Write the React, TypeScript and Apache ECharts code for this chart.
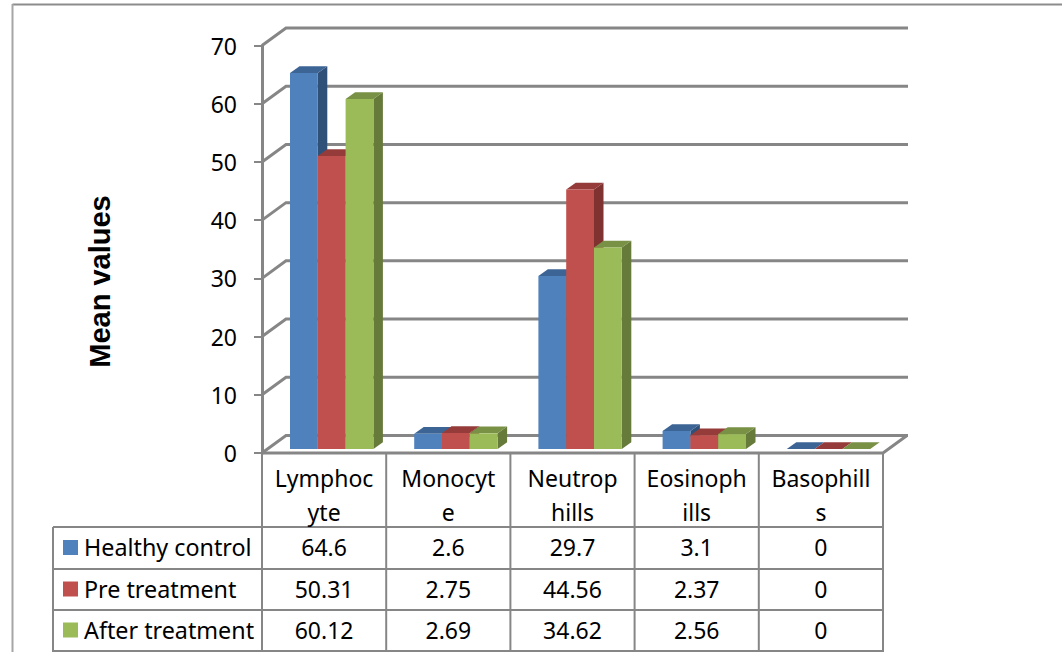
import React, { useEffect, useRef } from "react";
import * as echarts from "echarts";

const categories = ["Lymphoc\nyte", "Monocyt\ne", "Neutrop\nhills", "Eosinoph\nills", "Basophill\ns"];
const seriesNames = ["Healthy control", "Pre treatment", "After treatment"];
const healthyControl = [64.6, 2.6, 29.7, 3.1, 0];
const preTreatment = [50.31, 2.75, 44.56, 2.37, 0];
const afterTreatment = [60.12, 2.69, 34.62, 2.56, 0];
const tableText = [
  ["64.6", "2.6", "29.7", "3.1", "0"],
  ["50.31", "2.75", "44.56", "2.37", "0"],
  ["60.12", "2.69", "34.62", "2.56", "0"],
];
const yTicks = [0, 10, 20, 30, 40, 50, 60, 70];
const seriesValues = [healthyControl, preTreatment, afterTreatment];

const FRONT = ["#4f81bd", "#c0504d", "#9bbb59"];
const SIDE = ["#2f5179", "#7f3230", "#667a3a"];
const TOP = ["#3c6494", "#953c3a", "#789144"];
const GRID = "#868686";
const FONT = "Noto Sans";
const FS = 23;

const LEFT = 262, TOP_Y = 45.5, PLOT_W = 621, PLOT_H = 407.5;
const DX = 24, DY = -17.5;
const BAR_W = 27.8, BAR_DX = 9.5, BAR_DY = -6.8, BAR_SHIFT_X = 7.6, BAR_SHIFT_Y = -4;
const ROWS = [453, 527, 569, 610, 651];
const TABLE_LEFT = 53;
const COL = PLOT_W / 5;

function App() {
  const ref = useRef<HTMLDivElement>(null);
  useEffect(() => {
    const chart = echarts.init(ref.current!, undefined, { renderer: "svg" });
    const graphics: any[] = [];
    const line = (x1: number, y1: number, x2: number, y2: number, w = 2, c = GRID) =>
      graphics.push({ type: "line", z: 1, silent: true, shape: { x1, y1, x2, y2 }, style: { stroke: c, lineWidth: w } });
    // outer frame
    line(12.5, 4.5, 1062, 4.5, 2, "#8c8c8c");
    line(12.5, 4, 12.5, 652, 2, "#a6a6a6");
    // table
    for (let i = 0; i <= 5; i++) line(LEFT + i * COL, 453, LEFT + i * COL, 652, 2);
    line(TABLE_LEFT, 527, TABLE_LEFT, 652, 2);
    ROWS.slice(1).forEach((y) => line(TABLE_LEFT, y, LEFT + 5 * COL, y, 2));
    // category text, row headers, cells
    categories.forEach((c, i) => {
      c.split("\n").forEach((t, k) =>
        graphics.push({
          type: "text", z: 5, x: LEFT + (i + 0.5) * COL, y: 478 + k * 34,
          style: { text: t, fontFamily: FONT, fontSize: FS, fill: "#000", align: "center", verticalAlign: "middle" },
        })
      );
    });
    seriesNames.forEach((n, r) => {
      const cy = (ROWS[r + 1] + ROWS[r + 2]) / 2;
      graphics.push({ type: "rect", z: 5, shape: { x: 63, y: cy - 8, width: 15, height: 15 }, style: { fill: FRONT[r] } });
      graphics.push({
        type: "text", z: 5, x: 84, y: cy - 1,
        style: { text: n, fontFamily: FONT, fontSize: FS + 0.3, fill: "#000", align: "left", verticalAlign: "middle" },
      });
      tableText[r].forEach((t, i) =>
        graphics.push({
          type: "text", z: 5, x: LEFT + (i + 0.5) * COL, y: cy - 1,
          style: { text: t, fontFamily: FONT, fontSize: FS, fill: "#000", align: "center", verticalAlign: "middle" },
        })
      );
    });
    graphics.push({
      type: "text", z: 5, x: 100, y: 281.5, rotation: Math.PI / 2,
      style: { text: "Mean values", fontFamily: "Liberation Sans", fontWeight: "bold", fontSize: 29, fill: "#000", align: "center", verticalAlign: "middle" },
    });

    const wall = {
      type: "custom", coordinateSystem: "cartesian2d", silent: true, z: 2,
      data: yTicks.map((v) => [0, v]),
      renderItem: (_p: any, api: any) => {
        const pt = api.coord([0, api.value(1)]);
        const y = pt[1];
        return {
          type: "polyline",
          shape: { points: [[LEFT, y], [LEFT + DX, y + DY], [LEFT + PLOT_W + DX + 1, y + DY]] },
          style: { stroke: GRID, lineWidth: 3, fill: "none" },
        };
      },
    };
    const floorEdge = {
      type: "custom", coordinateSystem: "cartesian2d", silent: true, z: 2,
      data: [[4, 0]],
      renderItem: (_p: any, api: any) => {
        const y = api.coord([0, 0])[1];
        return {
          type: "polyline",
          shape: { points: [[LEFT, y], [LEFT + PLOT_W, y], [LEFT + PLOT_W + DX, y + DY]] },
          style: { stroke: GRID, lineWidth: 3, fill: "none" },
        };
      },
    };
    const bars = seriesValues.map((vals, s) => ({
      type: "custom", name: seriesNames[s], coordinateSystem: "cartesian2d", silent: true, z: 3 + s,
      data: vals.map((v, i) => [i, v]),
      renderItem: (_p: any, api: any) => {
        const top = api.coord([api.value(0), api.value(1)]);
        const base = api.coord([api.value(0), 0]);
        const x0 = top[0] + BAR_SHIFT_X + (s - 1.5) * BAR_W;
        const x1 = x0 + BAR_W;
        const yt = top[1] + BAR_SHIFT_Y;
        const yb = base[1] + BAR_SHIFT_Y;
        const children: any[] = [
          { type: "polygon", shape: { points: [[x1, yt], [x1 + BAR_DX, yt + BAR_DY], [x1 + BAR_DX, yb + BAR_DY], [x1, yb]] }, style: { fill: SIDE[s] } },
          { type: "polygon", shape: { points: [[x0, yt], [x0 + BAR_DX, yt + BAR_DY], [x1 + BAR_DX, yt + BAR_DY], [x1, yt]] }, style: { fill: TOP[s] } },
        ];
        if (yb - yt > 0.5) children.push({ type: "rect", shape: { x: x0, y: yt, width: BAR_W, height: yb - yt }, style: { fill: FRONT[s] } });
        return { type: "group", children };
      },
    }));

    chart.setOption({
      animation: false,
      backgroundColor: "#fff",
      grid: { left: LEFT, top: TOP_Y, width: PLOT_W, height: PLOT_H, containLabel: false },
      xAxis: { type: "category", data: categories, axisLine: { show: false }, axisTick: { show: false }, axisLabel: { show: false } },
      yAxis: {
        type: "value", min: 0, max: 70, interval: 10,
        axisLine: { show: true, lineStyle: { color: GRID, width: 3 } },
        axisTick: { show: true, length: 8, lineStyle: { color: GRID, width: 2 } },
        axisLabel: { margin: 25, fontFamily: FONT, fontSize: FS, color: "#000" },
        splitLine: { show: false },
      },
      series: [wall, floorEdge, ...bars],
      graphic: { elements: graphics },
    });
    return () => chart.dispose();
  }, []);
  return <div ref={ref} style={{ width: 1062, height: 652, position: "absolute", left: 0, top: 0 }} />;
}

export default App;
